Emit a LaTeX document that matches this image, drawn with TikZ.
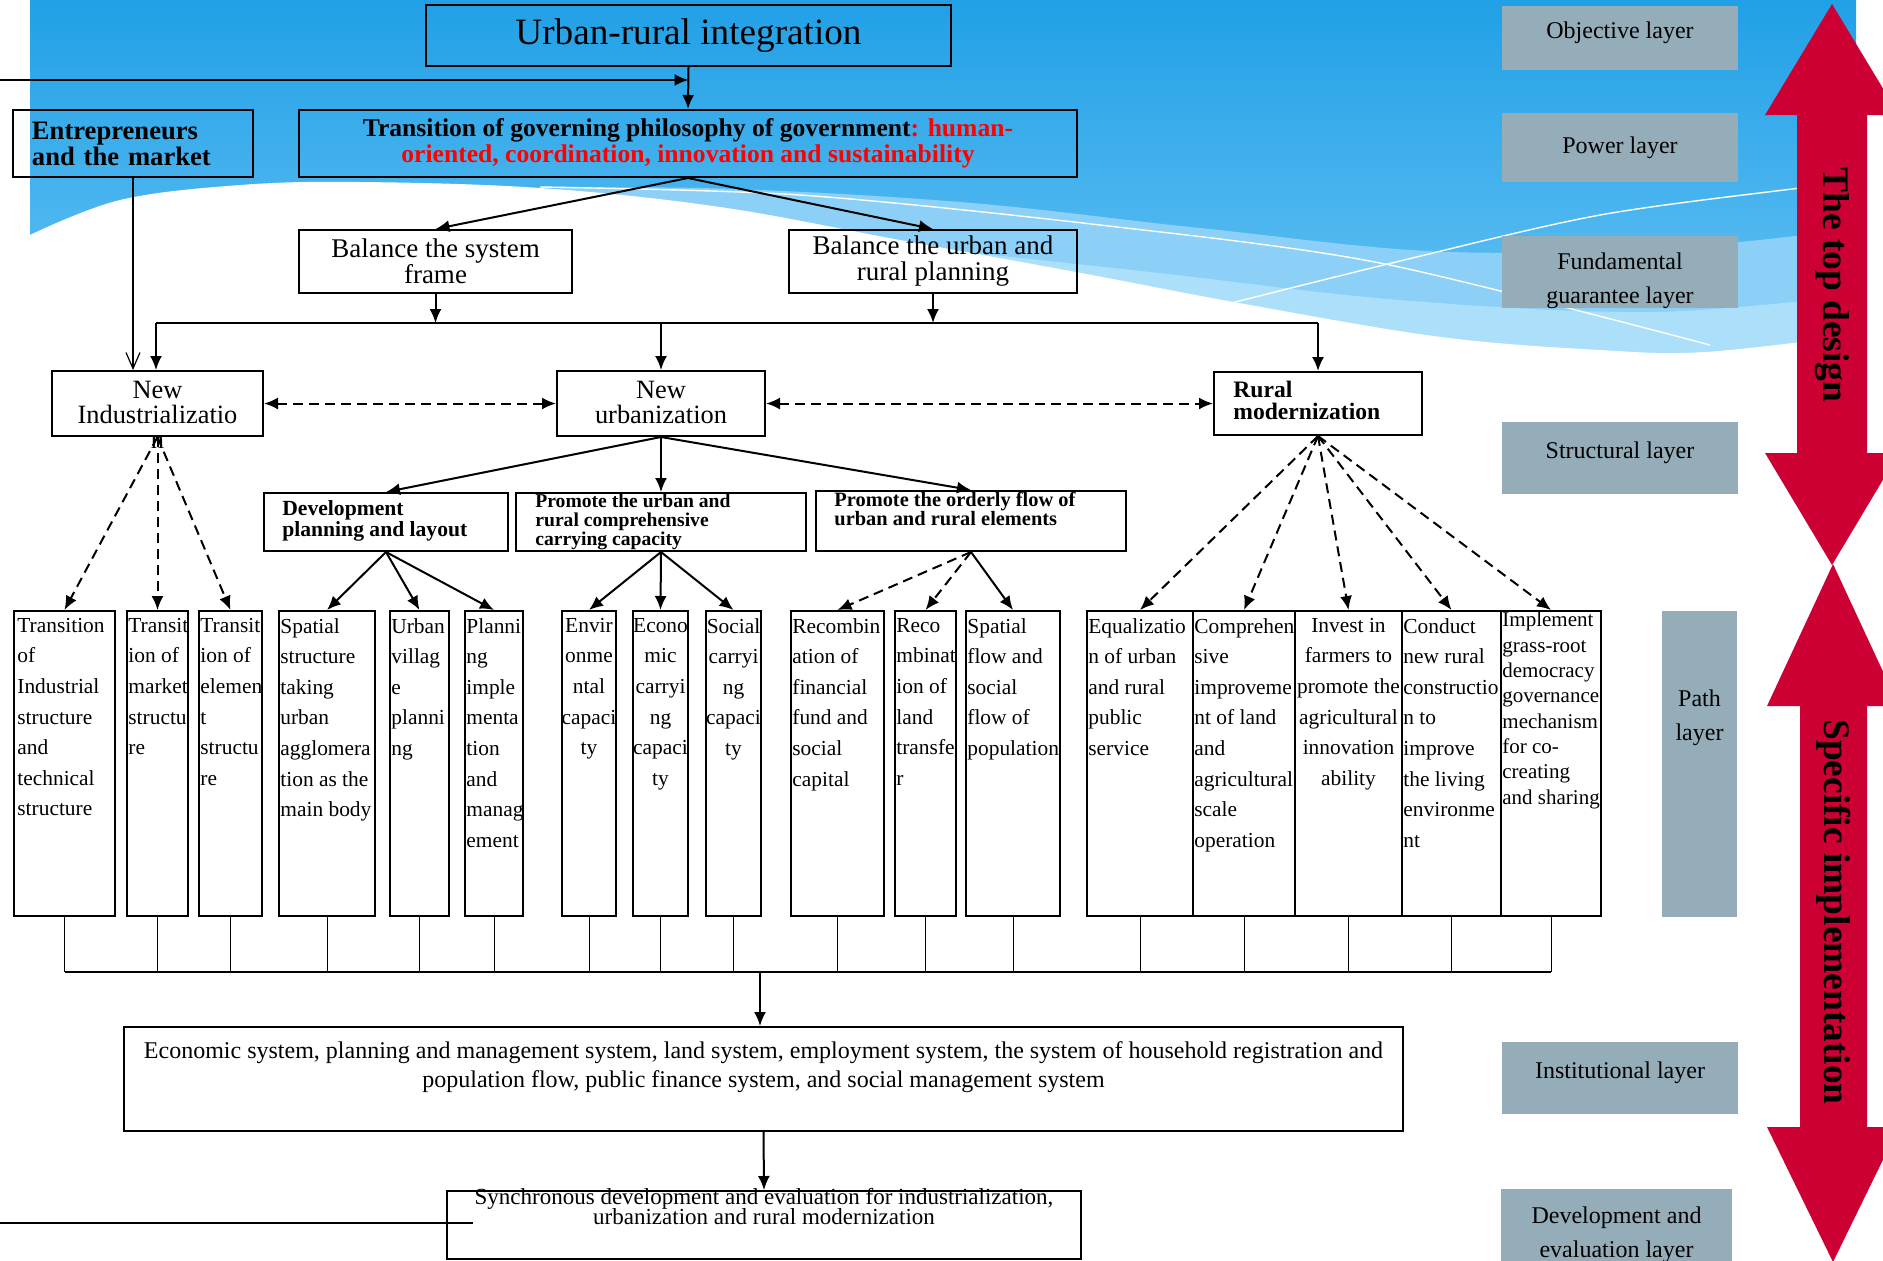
\documentclass[tikz,border=0pt]{standalone}
\usepackage{fontspec}
\setmainfont{Liberation Serif}
\usetikzlibrary{arrows.meta}
\definecolor{bgtop}{RGB}{33,160,230}
\definecolor{bgbot}{RGB}{105,196,245}
\definecolor{bgband}{RGB}{140,208,247}
\definecolor{bglight}{RGB}{172,223,250}
\definecolor{layergrey}{RGB}{148,173,184}
\definecolor{arrowred}{RGB}{204,0,51}
\newcommand\fs[2]{\fontsize{#1}{#2}\selectfont\lineskiplimit=-100pt\relax}

\begin{document}
\begin{tikzpicture}[x=0.5pt,y=-0.5pt]
\tikzstyle{box} = [rectangle, draw, line width=1pt, inner sep=0pt]
\tikzstyle{cell} = [rectangle, draw, line width=1pt, inner sep=0pt, minimum height=152.5pt]
\tikzstyle{tl} = [anchor=north west, align=left, inner sep=0pt]
\tikzstyle{bigtext} = [anchor=north, align=center, inner sep=0pt, yshift=-5.25pt, font=\fs{13.2}{12.5}]
\tikzstyle{celltext} = [tl, xshift=1pt, yshift=-3.9pt, font=\fs{10.7}{15.3}]
\tikzstyle{celltextc} = [anchor=north, align=center, inner sep=0pt, yshift=-3.9pt, font=\fs{10.7}{15.3}]
\tikzstyle{layer} = [rectangle, fill=layergrey, inner sep=0pt, align=center, font=\fs{12}{17}]
\tikzstyle{raised} = [text height=8.5pt, text depth=8.5pt]
\tikzstyle{layertext} = [align=center, inner sep=0pt, font=\fs{12}{17}]
\tikzstyle{line} = [draw, line width=1pt, -{Latex[length=7pt,width=6pt]}]
\tikzstyle{dline} = [line, dash pattern=on 5pt off 3pt]
\tikzstyle{twoway} = [dline, {Latex[length=7pt,width=6pt]}-{Latex[length=7pt,width=6pt]}]
\useasboundingbox (0,0) rectangle (1883,1260);

% background
\shade[top color=bgtop, bottom color=bgbot] (30,0) rectangle (1856,370);
\fill[bgband] plot[smooth, tension=0.6] coordinates {(480,190) (700,188) (960,202) (1200,228) (1450,252) (1700,245) (1856,228)} -- (1856,370) -- (480,370) -- cycle;
\fill[bglight] plot[smooth, tension=0.6] coordinates {(900,245) (1150,272) (1400,300) (1650,312) (1856,295)} -- (1856,370) -- (900,370) -- cycle;
\fill[white] plot[smooth, tension=0.6] coordinates {(30,235) (120,200) (240,185) (360,182) (540,188) (720,207) (900,240) (1081,273) (1250,305) (1441,337) (1600,350) (1705,352) (1856,335)} -- (1856,380) -- (30,380) -- cycle;
\draw[white, line width=0.7pt] plot[smooth] coordinates {(540,187) (800,195) (1100,225) (1380,263) (1710,345)};
\draw[white, line width=0.7pt] plot[smooth] coordinates {(1152,323) (1400,261) (1600,215) (1800,188) (1856,182)};

% objective layer
\node[box, minimum width=262.5pt, minimum height=30.5pt, font=\fs{18.6}{22}] (goal) at (688.5,35.5) {Urban-rural integration};
% power layer
\node[box, minimum width=120pt, minimum height=33.5pt, text width=101pt, inner xsep=9.5pt, align=left, font=\bfseries\fs{13.3}{13}] (ent) at (133,143.5) {Entrepreneurs\\and the market};
\node[box, minimum width=389pt, minimum height=33.5pt, align=center, font=\bfseries\fs{12.8}{13}] (gov) at (688,143.5) {Transition of governing philosophy of government\textcolor{red}{: human-}\\\textcolor{red}{oriented, coordination, innovation and sustainability}};
% fundamental guarantee layer
\node[box, minimum width=136.5pt, minimum height=31.5pt, align=center, font=\fs{13.5}{13}] (frame) at (435.5,261.5) {Balance the system\\frame};
\node[box, minimum width=144pt, minimum height=31.5pt, align=center, font=\fs{13.5}{13}] (plan) at (933,261.5) {Balance the urban and\\rural planning};
\coordinate (barL) at (156,323);
\coordinate (barR) at (1318,323);
% structural layer
\node[box, minimum width=105.5pt, minimum height=32.5pt, label={[bigtext]north:{New\\Industrializatio\\n}}] (ind) at (157.5,403.5) {};
\node[box, minimum width=104pt, minimum height=32.5pt, label={[bigtext]north:{New\\urbanization}}] (urb) at (661,403.5) {};
\node[box, minimum width=104pt, minimum height=31.5pt, label={[tl, xshift=10pt, yshift=-5pt, font=\bfseries\fs{11.8}{11}]north west:{Rural\\modernization}}] (rural) at (1318,403.5) {};
\node[box, minimum width=122pt, minimum height=29pt, label={[tl, xshift=9.5pt, yshift=-4.2pt, font=\bfseries\fs{10.8}{10.5}]north west:{Development\\planning and layout}}] (dev) at (386,522) {};
\node[box, minimum width=145pt, minimum height=29pt, label={[tl, xshift=10pt, yshift=-0.5pt, font=\bfseries\fs{9.8}{9.5}]north west:{Promote the urban and\\rural comprehensive\\carrying capacity}}] (carry) at (661,522) {};
\node[box, minimum width=155pt, minimum height=30pt, label={[tl, xshift=9.5pt, yshift=-1pt, font=\bfseries\fs{10.2}{9.5}]north west:{Promote the orderly flow of\\urban and rural elements}}] (flow) at (971,521) {};

% path layer
\node[cell, minimum width=50.5pt, label={[celltext, xshift=1pt]north west:{Transition\\of\\Industrial\\structure\\and\\technical\\structure}}] (p1) at (64.5,763.5) {};
\node[cell, minimum width=30.5pt, label={[celltext]north west:{Transit\\ion of\\market\\structu\\re}}] (p2) at (157.5,763.5) {};
\node[cell, minimum width=31.5pt, label={[celltext]north west:{Transit\\ion of\\elemen\\t\\structu\\re}}] (p3) at (230.5,763.5) {};
\node[cell, minimum width=48pt, label={[celltext]north west:{Spatial\\structure\\taking\\urban\\agglomera\\tion as the\\main body}}] (p4) at (327,763.5) {};
\node[cell, minimum width=29.5pt, label={[celltext]north west:{Urban\\villag\\e\\planni\\ng}}] (p5) at (419.5,763.5) {};
\node[cell, minimum width=29pt, label={[celltext]north west:{Planni\\ng\\imple\\menta\\tion\\and\\manag\\ement}}] (p6) at (494,763.5) {};
\node[cell, minimum width=27pt, label={[celltextc]north:{Envir\\onme\\ntal\\capaci\\ty}}] (p7) at (589,763.5) {};
\node[cell, minimum width=27.5pt, label={[celltextc]north:{Econo\\mic\\carryi\\ng\\capaci\\ty}}] (p8) at (660.5,763.5) {};
\node[cell, minimum width=27.5pt, label={[celltextc]north:{Social\\carryi\\ng\\capaci\\ty}}] (p9) at (733.5,763.5) {};
\node[cell, minimum width=46.5pt, label={[celltext]north west:{Recombin\\ation of\\financial\\fund and\\social\\capital}}] (p10) at (837.5,763.5) {};
\node[cell, minimum width=30.5pt, label={[celltext]north west:{Reco\\mbinat\\ion of\\land\\transfe\\r}}] (p11) at (925.5,763.5) {};
\node[cell, minimum width=47pt, label={[celltext]north west:{Spatial\\flow and\\social\\flow of\\population}}] (p12) at (1013,763.5) {};
\node[cell, minimum width=53pt, label={[celltext]north west:{Equalizatio\\n of urban\\and rural\\public\\service}}] (p13) at (1140,763.5) {};
\node[cell, minimum width=51pt, label={[celltext]north west:{Comprehen\\sive\\improveme\\nt of land\\and\\agricultural\\scale\\operation}}] (p14) at (1244,763.5) {};
\node[cell, minimum width=53.5pt, label={[celltextc]north:{Invest in\\farmers to\\promote the\\agricultural\\innovation\\ability}}] (p15) at (1348.5,763.5) {};
\node[cell, minimum width=49.5pt, label={[celltext]north west:{Conduct\\new rural\\constructio\\n to\\improve\\the living\\environme\\nt}}] (p16) at (1451.5,763.5) {};
\node[cell, minimum width=50pt, label={[tl, xshift=1pt, yshift=-1pt, font=\fs{10.5}{12.65}]north west:{Implement\\grass-root\\democracy\\governance\\mechanism\\for co-\\creating\\and sharing}}] (p17) at (1551,763.5) {};
\coordinate (busL) at (64.5,972);
\coordinate (busR) at (1551,972);
\coordinate (busM) at (760,972);

% institutional layer
\node[box, minimum width=639.5pt, minimum height=52pt, label={[anchor=north, align=center, inner sep=0pt, yshift=-7.5pt, font=\fs{12}{14.5}]north:{Economic system, planning and management system, land system, employment system, the system of household registration and\\population flow, public finance system, and social management system}}] (eco) at (763.5,1079) {};
% development and evaluation layer
\node[box, minimum width=317pt, minimum height=34pt, label={[anchor=north, align=center, inner sep=0pt, yshift=0.9pt, font=\fs{11.5}{10}]north:{Synchronous development and evaluation for industrialization,\\urbanization and rural modernization}}] (syn) at (764,1225) {};
\coordinate (fbtop) at (0,80);
\coordinate (fbbot) at (0,1223);
\coordinate (fbend) at (473,1223);

% connectors
\draw[line] (fbtop) -- (fbtop -| goal.south);
\draw[line] (goal.south) -- (gov.north);
\draw[line] (gov.south) -- (frame.north);
\draw[line] (gov.south) -- (plan.north);
\draw[line] (frame.south) -- (frame.south |- barL);
\draw[line] (plan.south) -- (plan.south |- barL);
\draw[line width=1pt] (barL) -- (barR);
\draw[line] (barL) -- (barL |- ind.north);
\draw[line] (urb.north |- barL) -- (urb.north);
\draw[line] (barR) -- (rural.north);
\draw[line width=0.6pt, -{Straight Barb[length=8pt,width=7pt]}] (ent.south) -- (ent.south |- ind.north);
\draw[twoway] (ind.east) -- (urb.west);
\draw[twoway] (urb.east) -- (rural.west);
\foreach \c in {dev,carry,flow} \draw[line] (urb.south) -- (\c.north);
\foreach \c in {p1,p2,p3} \draw[dline] (ind.south) -- (\c.north);
\foreach \c in {p4,p5,p6} \draw[line] (dev.south) -- (\c.north);
\foreach \c in {p7,p8,p9} \draw[line] (carry.south) -- (\c.north);
\foreach \c in {p10,p11} \draw[dline] (flow.south) -- (\c.north);
\draw[line] (flow.south) -- (p12.north);
\foreach \c in {p13,p14,p15,p16,p17} \draw[dline] (rural.south) -- (\c.north);
\foreach \c in {p1,p2,p3,p4,p5,p6,p7,p8,p9,p10,p11,p12,p13,p14,p15,p16,p17} \draw[line width=0.5pt] (\c.south) -- (\c.south |- busL);
\draw[line width=1.2pt] (busL) -- (busR);
\draw[line] (busM) -- (busM |- eco.north);
\draw[line] (eco.south) -- (syn.north);
\draw[line width=1.2pt] (fbbot) -- (fbend);

% layer labels
\node[layer, raised, minimum width=118pt, minimum height=32pt] (lobj) at (1620,38) {Objective layer};
\node[layer, minimum width=118pt, minimum height=34.5pt] (lpow) at (1620,147.5) {Power layer};
\node[layer, minimum width=118pt, minimum height=36pt] (lfun) at (1620,272) {};
\node[layertext] (lfuntxt) at (1620,281) {Fundamental\\guarantee layer};
\node[layer, raised, minimum width=118pt, minimum height=36pt] (lstr) at (1620,458) {Structural layer};
\node[layer, minimum width=37.5pt, minimum height=153pt] (lpath) at (1699.5,764) {};
\node[layertext] (lpathtxt) at (1699.5,718) {Path\\layer};
\node[layer, raised, minimum width=118pt, minimum height=36pt] (linst) at (1620,1078) {Institutional layer};
\node[layer, minimum width=115.5pt, minimum height=41pt] (ldev) at (1616.5,1230) {};
\node[layertext] (ldevtxt) at (1616.5,1235) {Development and\\evaluation layer};

% red arrows
\fill[arrowred] (1832,4) -- (1899,115) -- (1867,115) -- (1867,453) -- (1899,453) -- (1832,565) -- (1765,453) -- (1797,453) -- (1797,115) -- (1765,115) -- cycle;
\fill[arrowred] (1833,564) -- (1899,706) -- (1867,706) -- (1867,1127) -- (1899,1127) -- (1833,1262) -- (1767,1127) -- (1800,1127) -- (1800,706) -- (1767,706) -- cycle;
\node[rotate=-90, font=\bfseries\fs{18.7}{20}] (topdesign) at (1832,285) {The top design};
\node[rotate=-90, font=\bfseries\fs{18.7}{20}] (specific) at (1834,912) {Specific implementation};
\end{tikzpicture}
\end{document}
